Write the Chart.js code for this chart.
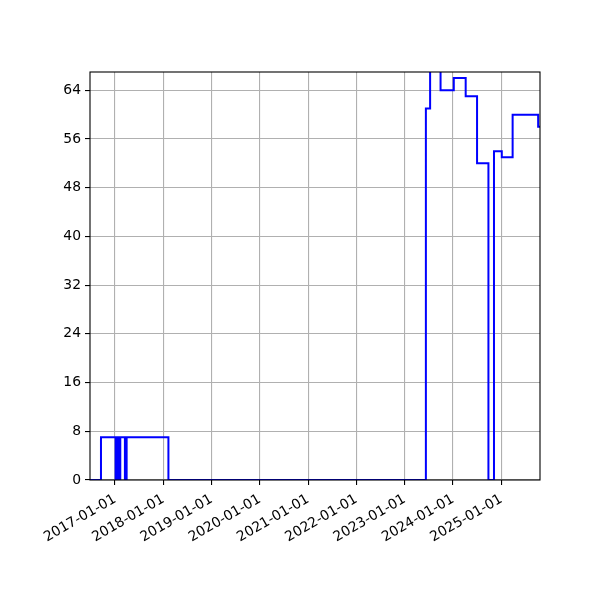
<!DOCTYPE html>
<html>
<head>
<meta charset="utf-8">
<script src="https://cdn.jsdelivr.net/npm/chart.js@4"></script>
<style>
html,body{margin:0;padding:0;background:#fff;}
canvas{display:block;}
</style>
</head>
<body>
<canvas id="c" width="600" height="600"></canvas>
<script>
// Step series: each value holds from its date until the next date
const dates = [
  "2016-06-26","2016-09-17","2017-01-06","2017-01-18","2017-01-31","2017-02-10",
  "2017-03-17","2017-03-30","2018-02-09","2023-06-10","2023-07-12","2023-09-29",
  "2024-01-07","2024-04-06","2024-07-01","2024-09-25","2024-11-06","2025-01-04",
  "2025-03-27","2025-10-06","2025-10-20"
];
const values = [
  0, 7, 0, 7, 0, 7,
  0, 7, 0, 61, 70, 64,
  66, 63, 52, 0, 54, 53,
  60, 58, 58
];
const tickYears = [2017,2018,2019,2020,2021,2022,2023,2024,2025];
const yTicks = [0,8,16,24,32,40,48,56,64];
const xMinDate = "2016-06-26";
const xMaxDate = "2025-10-20";
const yMax = 67;

const toMs = s => Date.parse(s + "T00:00:00Z");
const points = dates.map((d,i) => ({x: toMs(d), y: values[i]}));

const frame = {
  id: 'frame',
  afterDraw(chart) {
    const {ctx, chartArea: a} = chart;
    ctx.save();
    ctx.strokeStyle = '#000';
    ctx.lineWidth = 1.1;
    ctx.strokeRect(a.left, a.top, a.right - a.left, a.bottom - a.top);
    ctx.restore();
  }
};

const font = {family: "'DejaVu Sans'", size: 13.9};

new Chart(document.getElementById('c'), {
  type: 'line',
  data: {
    datasets: [{
      data: points,
      stepped: 'before',
      borderColor: '#0000ff',
      borderWidth: 2,
      pointRadius: 0,
      fill: false,
      clip: 0
    }]
  },
  options: {
    responsive: false,
    animation: false,
    devicePixelRatio: 1,
    layout: {padding: {left: 0, top: 72, right: 60, bottom: 0}},
    plugins: {legend: {display: false}, tooltip: {enabled: false}},
    scales: {
      x: {
        type: 'linear',
        min: toMs(xMinDate),
        max: toMs(xMaxDate),
        afterBuildTicks: ax => { ax.ticks = tickYears.map(y => ({value: Date.UTC(y,0,1)})); },
        afterFit: ax => { ax.height = 120; },
        ticks: {
          color: '#000',
          font: font,
          minRotation: 30,
          maxRotation: 30,
          padding: 6,
          callback: v => new Date(v).toISOString().slice(0,10)
        },
        grid: {color: '#b0b0b0', lineWidth: 1.1, tickColor: '#000', tickLength: 5, drawTicks: true},
        border: {display: false}
      },
      y: {
        min: 0,
        max: yMax,
        afterBuildTicks: ax => { ax.ticks = yTicks.map(v => ({value: v})); },
        afterFit: ax => { ax.width = 90; },
        ticks: {color: '#000', font: font, padding: 4},
        grid: {color: '#b0b0b0', lineWidth: 1.1, tickColor: '#000', tickLength: 5, drawTicks: true},
        border: {display: false}
      }
    }
  },
  plugins: [frame]
});
</script>
</body>
</html>
